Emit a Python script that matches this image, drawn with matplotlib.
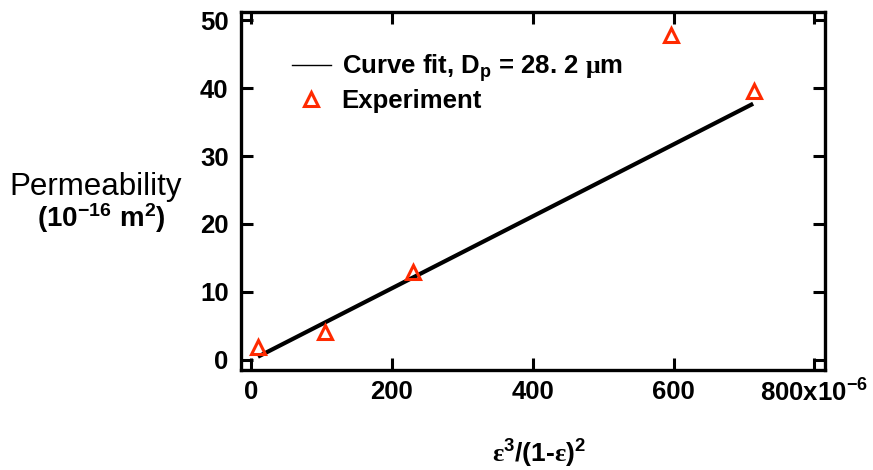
import matplotlib
matplotlib.use("Agg")
import matplotlib.pyplot as plt
from matplotlib.lines import Line2D

# experiment points, x in units of 1e-6, permeability in 1e-16 m^2
exp_x = [10, 105, 230, 597, 714]
exp_y = [1.9, 4.1, 12.9, 47.8, 39.6]

# Kozeny-Carman fit line end points (Dp = 28.2 um)
fit_x = [10, 713]
fit_y = [0.45, 37.7]

x_ticks = [0, 200, 400, 600, 800]
x_tick_labels = ["0", "200", "400", "600", r"800x10$^{\mathbf{-6}}$"]
y_ticks = [0, 10, 20, 30, 40, 50]

RED = "#ff2a00"

plt.rcParams["font.family"] = ["Liberation Sans", "DejaVu Sans"]
plt.rcParams["font.weight"] = "bold"
plt.rcParams["mathtext.fontset"] = "custom"
plt.rcParams["mathtext.rm"] = "Liberation Serif"
plt.rcParams["mathtext.bf"] = "Liberation Sans:bold"
plt.rcParams["mathtext.it"] = "Liberation Sans:italic"

fig = plt.figure(figsize=(8.73, 4.70), dpi=100)
ax = fig.add_axes([241 / 873, 100 / 470, 584 / 873, 358 / 470])

ax.plot(fit_x, fit_y, color="black", lw=3.0, solid_capstyle="butt")
ax.plot(exp_x, exp_y, linestyle="none", marker="^", ms=9.5,
        mfc="none", mec=RED, mew=2.2)

ax.set_xlim(-14, 815)
ax.set_ylim(-1.5, 51.2)
ax.set_xticks(x_ticks)
ax.set_xticklabels(x_tick_labels)
ax.set_yticks(y_ticks)

for s in ax.spines.values():
    s.set_linewidth(2.4)
ax.tick_params(direction="in", length=8.5, width=2.2, top=True, right=True,
               labelsize=18.5)
ax.tick_params(axis="x", pad=7)
ax.tick_params(axis="y", pad=9)

ax.set_xlabel(r"$\mathrm{ε}^{\mathbf{3}}\mathbf{/(1‐}\mathrm{ε}\mathbf{)}^{\mathbf{2}}$",
              fontsize=19, labelpad=22)
ax.xaxis.set_label_coords(0.51, -0.19)

fig.text(96 / 873, 1 - 187 / 470, "Permeability", fontsize=22.5,
         fontweight="normal", ha="center", va="center")
fig.text(101 / 873, 1 - 218 / 470, r"$\mathbf{(10^{-16}\ m^{2})}$",
         fontsize=20, ha="center", va="center")

handles = [
    Line2D([], [], color="black", lw=1.0),
    Line2D([], [], linestyle="none", marker="^", ms=9.5, mfc="none",
           mec=RED, mew=2.2),
]
labels = [r"Curve fit, D$_{\mathbf{p}}$ = 28. 2 $\mathrm{μ}$m", "Experiment"]
ax.legend(handles, labels, loc="upper left", bbox_to_anchor=(0.047, 0.952),
          frameon=False, fontsize=18.5, handlelength=1.55, handletextpad=0.4,
          labelspacing=0.2)

fig.savefig("out.png", dpi=100)
